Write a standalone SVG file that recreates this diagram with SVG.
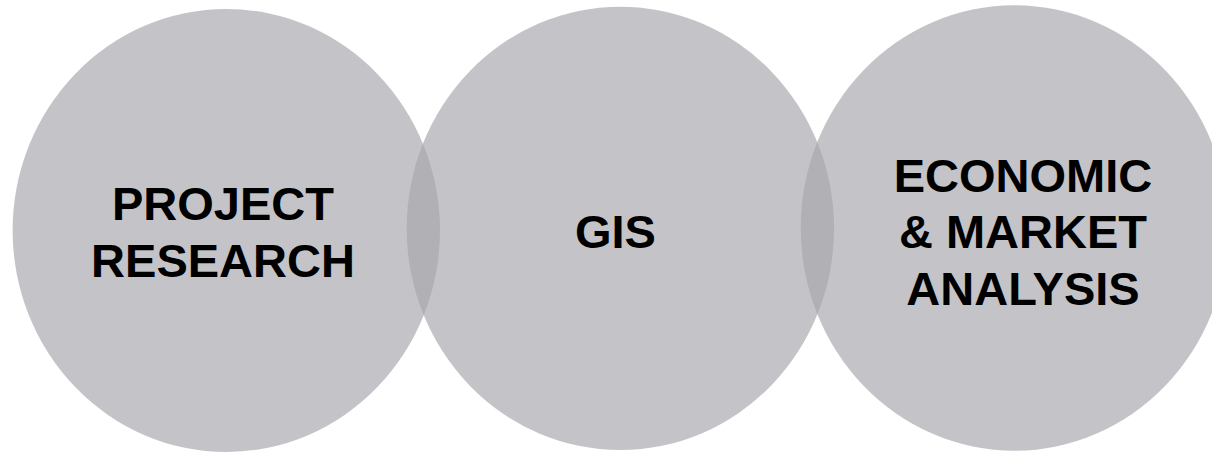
<svg xmlns="http://www.w3.org/2000/svg" width="1212" height="452" viewBox="0 0 1212 452">
<style>
.c{fill:#a5a5ab;fill-opacity:0.66}
.t{font-family:"Liberation Sans",Arial,sans-serif;font-weight:bold;font-size:47px;fill:#000;text-anchor:middle}
</style>
<rect width="1212" height="452" fill="#fff"/>
<g id="connectors"/>
<g id="node-project-research">
<ellipse class="c" cx="226.3" cy="230.5" rx="213.7" ry="221.5"/>
<text class="t" x="223" y="220">PROJECT</text>
<text class="t" x="223" y="276.7">RESEARCH</text>
</g>
<g id="node-gis">
<ellipse class="c" cx="620.4" cy="228.4" rx="213.7" ry="221.7"/>
<text class="t" x="615.4" y="248.3">GIS</text>
</g>
<g id="node-economic">
<ellipse class="c" cx="1014.4" cy="228" rx="213.7" ry="222.7"/>
<text class="t" x="1023" y="191.7">ECONOMIC</text>
<text class="t" x="1023" y="248.3">&amp; MARKET</text>
<text class="t" x="1023" y="305">ANALYSIS</text>
</g>
</svg>
